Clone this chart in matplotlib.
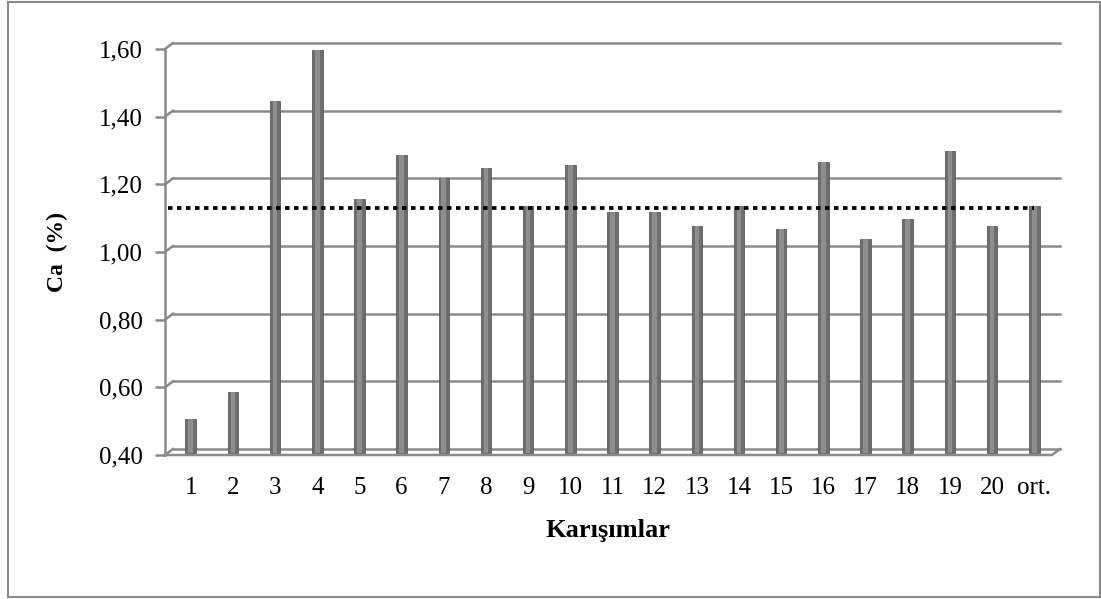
import matplotlib.pyplot as plt
from matplotlib.patches import Rectangle
from matplotlib.transforms import ScaledTranslation

# Ca content per mixture, last column is the mean
labels = [str(i) for i in range(1, 21)] + ['ort.']
ca = [0.50, 0.58, 1.44, 1.59, 1.15, 1.28, 1.21, 1.24, 1.13, 1.25,
      1.11, 1.11, 1.07, 1.13, 1.06, 1.26, 1.03, 1.09, 1.29, 1.07]
ca_mean = 1.13
values = ca + [ca_mean]
yticks = [0.40, 0.60, 0.80, 1.00, 1.20, 1.40, 1.60]

plt.rcParams['font.family'] = ['Liberation Serif', 'DejaVu Serif']

fig = plt.figure(figsize=(11.01, 5.99), dpi=100)
ax = fig.add_axes([165 / 1101, (599 - 455) / 599, 887 / 1101, 406 / 599])

x = list(range(len(values)))
xmin, xmax = -0.61, 20.42
ax.set_xlim(xmin, xmax)
ax.set_ylim(0.40, 1.60)

grid_c = '#8a8a8a'
px = 1 / 100
# back wall sits a few pixels up and to the right of the front
back = ax.transData + ScaledTranslation(8 * px, 6 * px, fig.dpi_scale_trans)
# bars stand halfway between front and back
mid = ax.transData + ScaledTranslation(0, 2.5 * px, fig.dpi_scale_trans)

for v in yticks:
    ax.plot([xmin, xmax], [v, v], color=grid_c, lw=1.8, transform=back,
            clip_on=False, zorder=1)

# diagonal connectors from the front axis to the back wall
for v in yticks:
    x0, y0 = ax.transData.transform((xmin, v))
    fig.lines.append(plt.Line2D([x0, x0 + 8], [y0, y0 + 6], color=grid_c,
                                lw=1.8, transform=None, figure=fig))
# floor front edge and right corner
x0, y0 = ax.transData.transform((xmin, 0.40))
x1, _ = ax.transData.transform((xmax, 0.40))
fig.lines.append(plt.Line2D([x0, x1, x1 + 8], [y0, y0, y0 + 6], color=grid_c,
                            lw=1.8, transform=None, figure=fig))

# cylinder-like bars: dark body with a lighter centre strip
body = ax.bar(x, [v - 0.40 for v in values], width=0.25, bottom=0.40,
              color='#6e6e6e', edgecolor='#5c5c5c', linewidth=0.6, zorder=3)
core = ax.bar(x, [v - 0.40 for v in values], width=0.11, bottom=0.40,
              color='#8e8e8e', linewidth=0, zorder=4)
for p in list(body) + list(core):
    p.set_transform(mid)
    p.set_clip_on(False)

# mean line
ax.plot([xmin + 0.07, x[-1]], [ca_mean, ca_mean], color='black', lw=2.7,
        linestyle=(0, (1.2, 1.2)), zorder=5, clip_on=False)

for s in ['top', 'right', 'bottom']:
    ax.spines[s].set_visible(False)
ax.spines['left'].set_color(grid_c)
ax.spines['left'].set_linewidth(1.8)

ax.set_yticks(yticks)
ax.set_yticklabels([f'{v:.2f}'.replace('.', ',') for v in yticks])
ax.set_xticks(x)
ax.set_xticklabels(labels)
ax.tick_params(axis='y', colors=grid_c, length=7, width=1.8, labelsize=18,
               labelcolor='black', pad=9)
ax.tick_params(axis='x', length=0, labelsize=18, pad=16)

ax.set_xlabel('Karışımlar', fontsize=19, fontweight='bold', labelpad=14)
ax.set_ylabel('Ca  (%)', fontsize=17, fontweight='bold', labelpad=22)

# chart area border
fig.patches.append(Rectangle((8 / 1101, 2 / 599), 1092 / 1101, 595 / 599,
                             transform=fig.transFigure, fill=False,
                             edgecolor='#8a8a8a', lw=1.5))

fig.savefig('out.png', dpi=100)
